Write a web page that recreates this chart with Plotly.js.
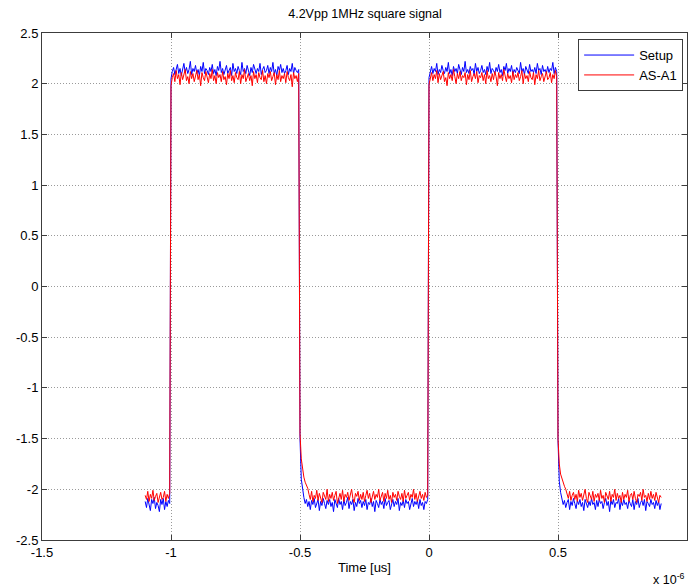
<!DOCTYPE html>
<html>
<head>
<meta charset="utf-8">
<script src="https://cdn.plot.ly/plotly-3.0.1.min.js"></script>
<style>html,body{margin:0;padding:0;background:#fff;}#chart{width:690px;height:587px;}</style>
</head>
<body>
<div id="chart"></div>
<script>
// sample grid (microseconds)
const tStart = -1.1;
const tStep = 0.005;

// Setup (blue) segments
const setupLow1 = [-2.12,-2.18,-2.09,-2.15,-2.21,-2.1,-2.14,-2.08,-2.19,-2.13,-2.16,-2.22,-2.1,-2.15,-2.09,-2.2,-2.12,-2.17,-2.11,-2.14];
const setupHigh1 = [
2.05,2.12,2.16,2.09,2.14,2.19,2.1,2.15,2.08,2.13,
2.2,2.11,2.16,2.1,2.14,2.22,2.09,2.15,2.12,2.18,
2.1,2.14,2.08,2.17,2.12,2.21,2.1,2.15,2.13,2.09,
2.16,2.12,2.19,2.1,2.14,2.08,2.17,2.13,2.22,2.11,
2.15,2.09,2.14,2.18,2.1,2.13,2.16,2.08,2.2,2.12,
2.15,2.1,2.17,2.13,2.09,2.21,2.12,2.15,2.1,2.18,
2.13,2.08,2.16,2.11,2.19,2.14,2.1,2.15,2.12,2.2,
2.09,2.14,2.17,2.11,2.13,2.18,2.1,2.16,2.12,2.21,
2.1,2.14,2.08,2.17,2.13,2.19,2.11,2.15,2.1,2.13,
2.18,2.09,2.15,2.12,2.2,2.1,2.16,2.13,2.11,2.14];
const setupLow2 = [
-1.5,-1.9,-2.02,-2.08,-2.14,-2.1,-2.17,-2.12,-2.2,-2.11,
-2.15,-2.09,-2.18,-2.13,-2.1,-2.21,-2.12,-2.16,-2.09,-2.14,
-2.19,-2.11,-2.15,-2.1,-2.17,-2.13,-2.22,-2.1,-2.14,-2.18,
-2.09,-2.15,-2.12,-2.2,-2.1,-2.16,-2.13,-2.08,-2.19,-2.12,
-2.15,-2.1,-2.21,-2.13,-2.17,-2.09,-2.14,-2.11,-2.18,-2.12,
-2.16,-2.1,-2.2,-2.13,-2.15,-2.09,-2.17,-2.12,-2.22,-2.11,
-2.14,-2.18,-2.1,-2.15,-2.12,-2.19,-2.09,-2.16,-2.13,-2.11,
-2.2,-2.14,-2.1,-2.17,-2.12,-2.15,-2.09,-2.21,-2.13,-2.16,
-2.11,-2.18,-2.1,-2.14,-2.12,-2.2,-2.13,-2.09,-2.17,-2.12,
-2.15,-2.11,-2.19,-2.1,-2.16,-2.13,-2.2,-2.12,-2.14,-2.1];
const setupHigh2 = [
2.06,2.13,2.17,2.1,2.15,2.12,2.2,2.09,2.14,2.11,
2.18,2.13,2.1,2.16,2.12,2.21,2.1,2.14,2.08,2.17,
2.12,2.15,2.1,2.19,2.13,2.09,2.16,2.12,2.22,2.11,
2.14,2.1,2.17,2.13,2.15,2.09,2.2,2.12,2.16,2.1,
2.13,2.18,2.11,2.14,2.09,2.17,2.12,2.21,2.1,2.15,
2.13,2.1,2.16,2.12,2.19,2.11,2.14,2.08,2.17,2.13,
2.2,2.1,2.15,2.12,2.18,2.09,2.14,2.11,2.16,2.13,
2.1,2.21,2.12,2.15,2.09,2.17,2.13,2.1,2.19,2.12,
2.14,2.11,2.16,2.1,2.2,2.13,2.15,2.09,2.18,2.12,
2.14,2.1,2.17,2.11,2.15,2.13,2.21,2.1,2.16,2.12];
const setupLow3 = [
-1.52,-1.92,-2.03,-2.09,-2.15,-2.11,-2.18,-2.13,-2.1,-2.2,
-2.12,-2.16,-2.09,-2.14,-2.19,-2.11,-2.15,-2.1,-2.17,-2.13,
-2.21,-2.1,-2.14,-2.18,-2.12,-2.16,-2.09,-2.15,-2.13,-2.2,
-2.11,-2.17,-2.1,-2.14,-2.12,-2.19,-2.13,-2.09,-2.16,-2.12,
-2.22,-2.11,-2.15,-2.1,-2.18,-2.13,-2.14,-2.09,-2.2,-2.12,
-2.16,-2.1,-2.15,-2.13,-2.19,-2.11,-2.14,-2.17,-2.1,-2.2,
-2.12,-2.15,-2.09,-2.18,-2.13,-2.11,-2.16,-2.1,-2.21,-2.12,
-2.14,-2.17,-2.1,-2.15,-2.13,-2.19,-2.11,-2.16,-2.12,-2.2,
-2.14];

// AS-A1 (red) segments
const asLow1 = [-2.06,-2.1,-2.02,-2.12,-2.05,-2.09,-2.01,-2.11,-2.07,-2.04,-2.13,-2.06,-2.03,-2.1,-2.08,-2.02,-2.12,-2.05,-2.09,-2.04];
const asHigh1 = [
1.98,2.06,2.1,2.02,2.13,2.05,2.09,1.99,2.11,2.04,
2.08,2.14,2.03,2.07,2.0,2.12,2.05,2.1,2.02,2.08,
2.13,2.04,2.09,1.98,2.11,2.06,2.03,2.12,2.07,2.01,
2.1,2.05,2.14,2.03,2.08,2.0,2.11,2.06,2.09,2.02,
2.12,2.04,2.07,1.99,2.1,2.05,2.13,2.03,2.08,2.01,
2.11,2.06,2.04,2.12,2.0,2.09,2.05,2.14,2.02,2.07,
2.1,2.03,2.08,1.98,2.12,2.05,2.09,2.01,2.11,2.06,
2.04,2.13,2.02,2.08,2.0,2.1,2.06,2.12,2.03,2.07,
2.11,1.99,2.09,2.04,2.13,2.02,2.08,2.05,2.1,2.01,
2.12,2.06,2.03,2.09,1.97,2.11,2.05,2.08,2.02,2.1];
const asLow2 = [
-1.45,-1.7,-1.82,-1.88,-1.93,-1.96,-1.99,-2.05,-2.1,-2.02,
-2.12,-2.06,-2.09,-2.01,-2.11,-2.04,-2.08,-2.13,-2.03,-2.07,
-2.1,-2.0,-2.12,-2.05,-2.09,-2.03,-2.11,-2.06,-2.02,-2.14,
-2.07,-2.04,-2.1,-2.01,-2.12,-2.05,-2.08,-2.03,-2.11,-2.06,
-2.0,-2.09,-2.13,-2.04,-2.07,-2.02,-2.11,-2.05,-2.1,-2.03,
-2.12,-2.06,-2.01,-2.09,-2.04,-2.13,-2.07,-2.02,-2.1,-2.05,
-2.08,-2.0,-2.11,-2.06,-2.03,-2.12,-2.04,-2.09,-2.01,-2.1,
-2.06,-2.13,-2.03,-2.08,-2.05,-2.11,-2.02,-2.07,-2.1,-2.04,
-2.12,-2.01,-2.09,-2.06,-2.03,-2.11,-2.05,-2.08,-2.0,-2.1,
-2.04,-2.12,-2.07,-2.02,-2.09,-2.05,-2.11,-2.03,-2.08,-2.06];
const asHigh2 = [
1.99,2.07,2.11,2.03,2.09,2.05,2.13,2.01,2.1,2.04,
2.08,2.12,2.02,2.06,1.98,2.11,2.05,2.09,2.03,2.14,
2.07,2.0,2.1,2.05,2.12,2.03,2.08,2.06,2.11,1.99,
2.09,2.04,2.13,2.02,2.07,2.1,2.05,2.12,2.01,2.08,
2.06,2.11,2.03,2.09,2.0,2.13,2.05,2.08,2.02,2.1,
2.04,2.12,2.07,1.98,2.11,2.05,2.09,2.03,2.14,2.06,
2.02,2.1,2.05,2.08,2.01,2.12,2.04,2.09,2.06,2.11,
2.03,2.07,2.13,2.0,2.1,2.05,2.08,2.02,2.12,2.06,
2.04,2.11,1.99,2.09,2.05,2.13,2.03,2.07,2.1,2.02,
2.08,2.12,2.04,2.06,2.11,2.01,2.09,2.05,2.13,2.07];
const asLow3 = [
-1.5,-1.75,-1.85,-1.9,-1.94,-1.97,-2.0,-2.04,-2.09,-2.02,
-2.11,-2.06,-2.03,-2.1,-2.05,-2.12,-2.01,-2.08,-2.04,-2.11,
-2.06,-2.0,-2.09,-2.13,-2.03,-2.07,-2.1,-2.02,-2.12,-2.05,
-2.08,-2.04,-2.11,-2.01,-2.09,-2.06,-2.13,-2.03,-2.07,-2.1,
-2.02,-2.12,-2.05,-2.08,-2.0,-2.11,-2.04,-2.09,-2.06,-2.13,
-2.03,-2.1,-2.05,-2.08,-2.01,-2.12,-2.06,-2.04,-2.1,-2.02,
-2.09,-2.13,-2.05,-2.07,-2.03,-2.11,-2.0,-2.08,-2.06,-2.12,
-2.04,-2.1,-2.02,-2.09,-2.05,-2.11,-2.03,-2.07,-2.13,-2.06,
-2.08];

const setupValues = [].concat(setupLow1, setupHigh1, setupLow2, setupHigh2, setupLow3);
const asValues = [].concat(asLow1, asHigh1, asLow2, asHigh2, asLow3);

const xTickVals = [-1.5, -1, -0.5, 0, 0.5, 1];
const xTickText = ['-1.5', '-1', '-0.5', '0', '0.5', '1'];
const yTickVals = [2.5, 2, 1.5, 1, 0.5, 0, -0.5, -1, -1.5, -2, -2.5];
const yTickText = ['2.5', '2', '1.5', '1', '0.5', '0', '-0.5', '-1', '-1.5', '-2', '-2.5'];

const FONT = 'Liberation Sans, Arial, Helvetica, sans-serif';

const traces = [
  {type: 'scatter', mode: 'lines', name: 'Setup', x0: tStart, dx: tStep, y: setupValues,
   line: {color: 'rgb(0,0,255)', width: 1}},
  {type: 'scatter', mode: 'lines', name: 'AS-A1', x0: tStart, dx: tStep, y: asValues,
   line: {color: 'rgb(255,0,0)', width: 1}}
];

const axisCommon = {
  showline: true, linecolor: '#3c3c3c', linewidth: 1, mirror: 'ticks',
  ticks: 'inside', ticklen: 5, tickcolor: '#3c3c3c', tickwidth: 1,
  showgrid: true, gridcolor: '#9a9a9a', griddash: '1px,2px', gridwidth: 1,
  zeroline: false, tickfont: {family: FONT, size: 13, color: '#000'}
};

const layout = {
  width: 690, height: 587,
  margin: {l: 42, r: 3, t: 33, b: 47},
  paper_bgcolor: '#fff', plot_bgcolor: '#fff',
  font: {family: FONT, size: 13, color: '#000'},
  title: {text: '4.2Vpp 1MHz square signal', x: 0.529, xanchor: 'center', y: 0.977, yanchor: 'middle',
          font: {family: FONT, size: 12.5, color: '#000'}},
  xaxis: Object.assign({}, axisCommon, {range: [-1.5, 1], tickvals: xTickVals, ticktext: xTickText,
          title: {text: 'Time [us]', standoff: 4, font: {family: FONT, size: 13, color: '#000'}}}),
  yaxis: Object.assign({}, axisCommon, {range: [-2.5, 2.5], tickvals: yTickVals, ticktext: yTickText}),
  showlegend: true,
  legend: {x: 0.994, xanchor: 'right', y: 0.988, yanchor: 'top', bgcolor: '#fff',
           bordercolor: '#3c3c3c', borderwidth: 1, font: {family: FONT, size: 13, color: '#000'},
           itemwidth: 50, tracegroupgap: 0},
  annotations: [{xref: 'paper', yref: 'paper', x: 1.0, y: -0.058, xanchor: 'right', yanchor: 'top',
                 text: 'x 10<sup>-6</sup>', showarrow: false, font: {family: FONT, size: 12.5, color: '#000'}}]
};

Plotly.newPlot('chart', traces, layout, {displayModeBar: false, staticPlot: true});
</script>
</body>
</html>
